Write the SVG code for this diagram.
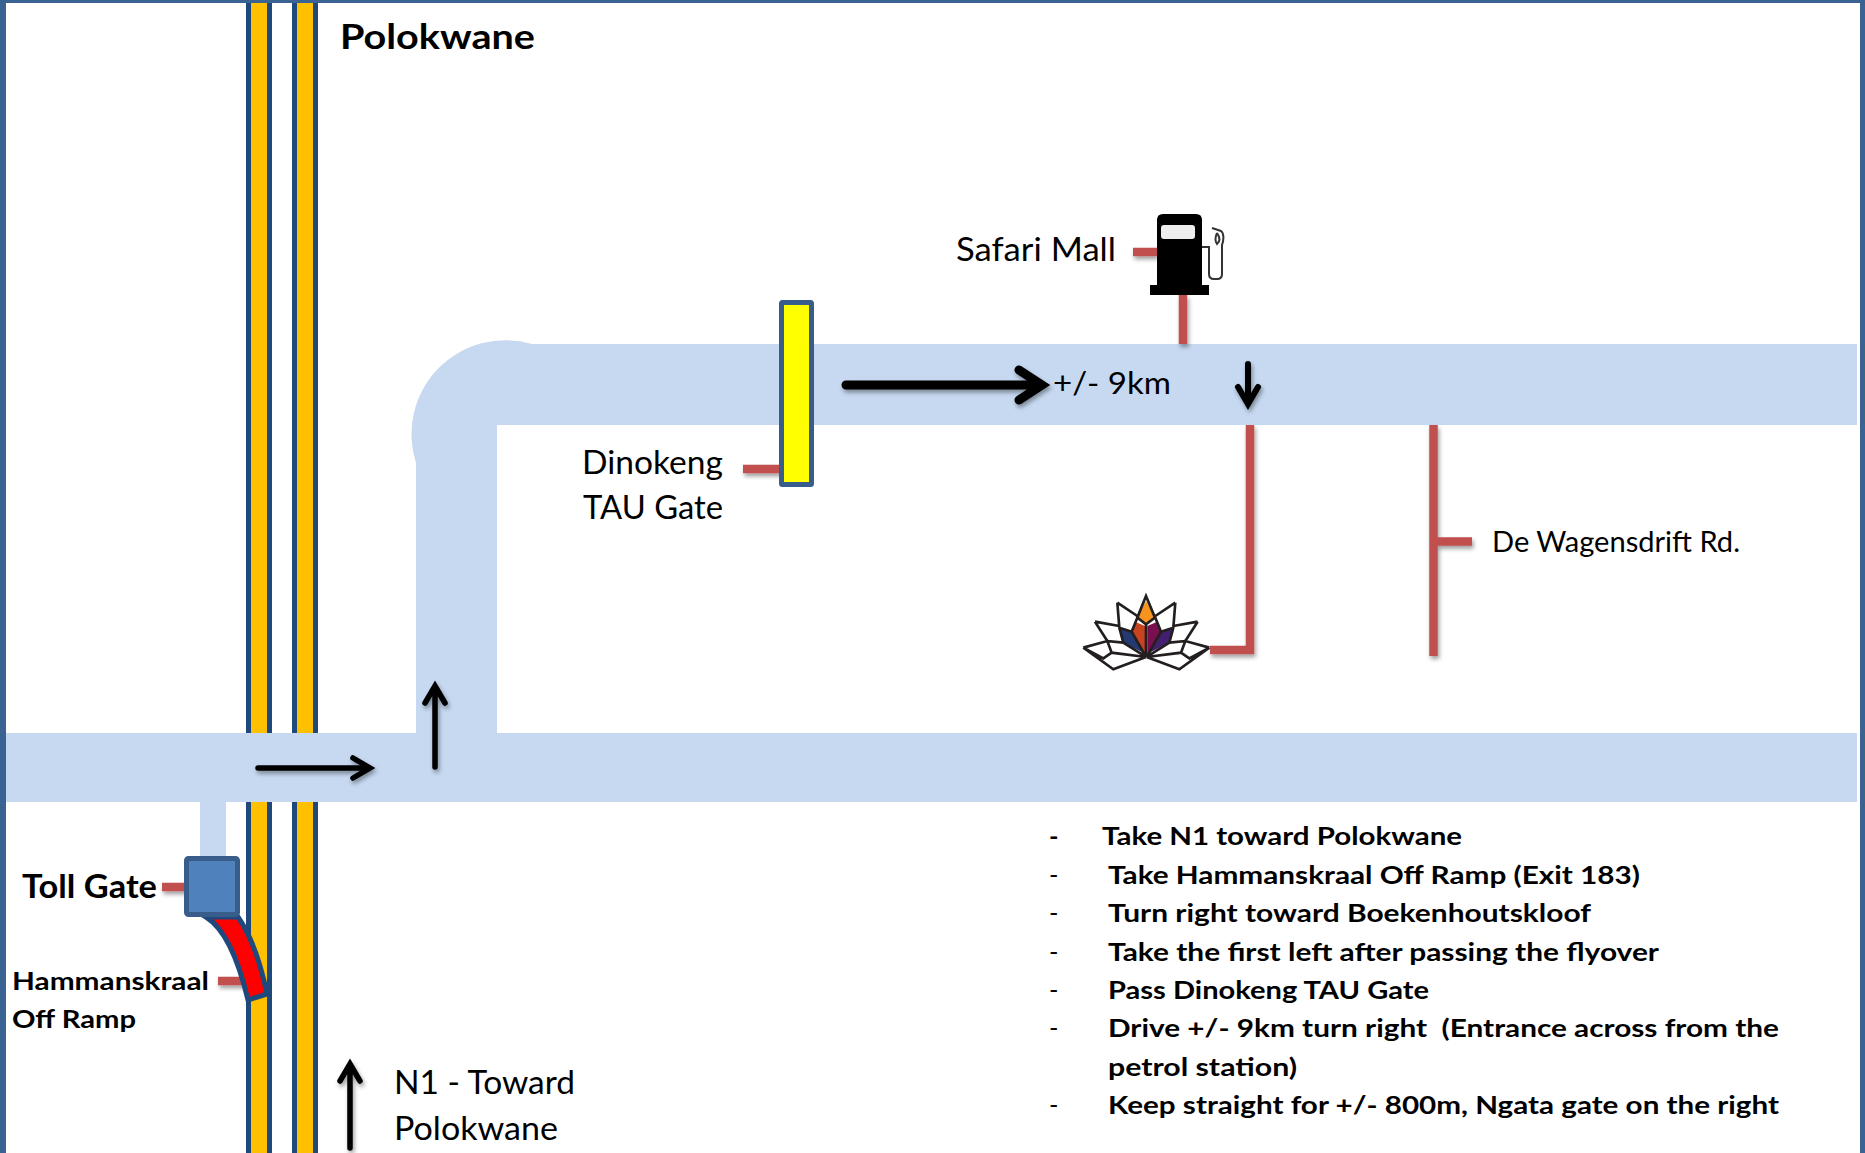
<svg xmlns="http://www.w3.org/2000/svg" width="1865" height="1153" viewBox="0 0 1865 1153">
<style>
text{font-family:"Lato","Open Sans","Liberation Sans",sans-serif;fill:#000}
.r{font-size:33px}
.b{font-weight:700}
.li{font-size:25.5px;font-weight:700}
.d{font-size:25.5px}
.road{fill:#C6D9F1}
.hw{fill:#FFC000;stroke:#1F497D;stroke-width:5}
.lead{stroke:#C0504D;stroke-width:8.5;fill:none}
.ar{stroke:#000;fill:none;stroke-linecap:round;stroke-linejoin:miter}
.gate{stroke:#385D8A;stroke-width:5}
.lo{fill:none;stroke:#231F20;stroke-width:8;stroke-linejoin:miter}
.sh{filter:url(#sh)}
</style>
<defs>
<filter id="sh" x="0" y="0" width="1865" height="1153" filterUnits="userSpaceOnUse"><feDropShadow dx="1.5" dy="3" stdDeviation="2" flood-color="#000" flood-opacity=".38"/></filter>
</defs>
<rect width="1865" height="1153" fill="#fff"/>
<g id="frame" fill="#3A6293"><rect x="0" y="0" width="6" height="1153"/><rect x="0" y="0" width="1865" height="3"/><rect x="1860" y="0" width="5" height="1153"/></g>
<g id="n1-highway"><rect class="hw" x="248.500" y="0" width="21" height="1160"/><rect class="hw" x="294.500" y="0" width="21" height="1160"/><rect x="0" y="0" width="1865" height="3" fill="#3A6293"/></g>
<g id="roads">
<path class="road" d="M416 802V463A94 94 0 0 1 532 344H1857V425H497V733H1857V802H6V733H416Z"/>
<rect class="road" x="200" y="802" width="26" height="60"/>
</g>
<g id="connectors" class="sh">
<path class="lead" d="M1183 295V344"/>
<path class="lead" d="M1133 252H1157"/>
<path class="lead" d="M743 469H781"/>
<path class="lead" d="M162 887H186"/>
<path class="lead" d="M218 981H246"/>
<path class="lead" d="M1250 425V650H1210"/>
<path class="lead" d="M1433.500 425V656"/>
<path class="lead" d="M1437 541.500H1472"/>
<path class="ar" stroke-width="9" d="M846 385H1040M1019 370L1042 385L1019 400"/>
<path class="ar" stroke-width="6" d="M1248 364V404M1238 387L1248 404L1258 387"/>
<path class="ar" stroke-width="5.500" d="M258 768H368M353 758L370 768L353 778"/>
<path class="ar" stroke-width="5.500" d="M435 767V688M425 703L435 686L445 703"/>
<path class="ar" stroke-width="5.500" d="M350 1148V1065M340 1081L350 1064L360 1081"/>
</g>
<g id="hammanskraal-ramp">
<path d="M206 917C224 928 238 958 248 1000L267 994C261 965 252 937 238 917Z" fill="#F00" stroke="#1F497D" stroke-width="5"/>
<text class="d b" x="12" y="990" textLength="197" lengthAdjust="spacingAndGlyphs">Hammanskraal</text>
<text class="d b" x="12" y="1028" textLength="124" lengthAdjust="spacingAndGlyphs">Off Ramp</text>
</g>
<g id="toll-gate">
<rect class="gate" x="186.500" y="858.500" width="51" height="56" rx="2" fill="#4F81BD"/>
<text class="b" font-size="33" x="22" y="898" textLength="135" lengthAdjust="spacingAndGlyphs">Toll Gate</text>
</g>
<g id="dinokeng-gate">
<rect class="gate" x="781.500" y="302.500" width="30" height="182" rx="1" fill="#FF0"/>
<text class="r" x="582" y="474" textLength="141" lengthAdjust="spacingAndGlyphs">Dinokeng</text>
<text class="r" x="583" y="519" textLength="140" lengthAdjust="spacingAndGlyphs">TAU Gate</text>
</g>
<g id="safari-mall">
<path d="M1157 285V220Q1157 214 1163 214H1196Q1202 214 1202 220V285H1209V295H1150V285Z" fill="#000"/>
<rect x="1161" y="225" width="34" height="14" rx="3" fill="#EEE"/>
<path d="M1202 247H1209V274Q1209 279 1214 279H1217Q1222 279 1222 274V245C1224 240 1224 233 1221 231L1212 228M1217 233Q1214 240 1217 244Q1222 240 1217 233" fill="none" stroke="#333" stroke-width="2"/>
<text class="r" x="956" y="261" textLength="160" lengthAdjust="spacingAndGlyphs">Safari Mall</text>
</g>
<g id="ngata-lotus" transform="translate(1060 571) scale(.3333)">
<path d="M258 90L285 140L258 160L232 140Z" fill="#F7941E"/>
<path d="M225 152L255 165V250L215 185Z" fill="#C8431F"/>
<path d="M292 152L262 165V250L302 185Z" fill="#7A0F4F"/>
<path d="M180 172L215 182L250 245L190 215Z" fill="#243A72"/>
<path d="M337 172L302 182L268 245L327 215Z" fill="#43206F"/>
<path class="lo" d="M258 75L285 140L258 160L232 140ZM258 160V258M232 140L215 182L258 258M172 95L232 135M172 95L178 170L190 215L258 258M178 170L215 182M105 152L178 165M105 152L142 210L190 215M70 230L142 210L155 245L258 258M70 230L160 295L258 258M70 230L130 262L155 245"/>
<path class="lo" transform="matrix(-1 0 0 1 518 0)" d="M232 140L215 182L258 258M172 95L232 135M172 95L178 170L190 215L258 258M178 170L215 182M105 152L178 165M105 152L142 210L190 215M70 230L142 210L155 245L258 258M70 230L160 295L258 258M70 230L130 262L155 245"/>
</g>
<g id="labels">
<text class="b" font-size="34" x="340" y="49" textLength="195" lengthAdjust="spacingAndGlyphs">Polokwane</text>
<text font-size="31" x="1053" y="394" textLength="118" lengthAdjust="spacingAndGlyphs">+/- 9km</text>
<text font-size="28" x="1492" y="552" textLength="248" lengthAdjust="spacingAndGlyphs">De Wagensdrift Rd.</text>
<text class="r" x="394" y="1094" textLength="181" lengthAdjust="spacingAndGlyphs">N1 - Toward</text>
<text class="r" x="394" y="1140" textLength="164" lengthAdjust="spacingAndGlyphs">Polokwane</text>
</g>
<g id="directions">
<text class="li" x="1049" y="845">-</text><text class="li" x="1102" y="845" textLength="360" lengthAdjust="spacingAndGlyphs">Take N1 toward Polokwane</text>
<text class="d" x="1049" y="884">-</text><text class="li" x="1108" y="884" textLength="532" lengthAdjust="spacingAndGlyphs">Take Hammanskraal Off Ramp (Exit 183)</text>
<text class="d" x="1049" y="922">-</text><text class="li" x="1108" y="922" textLength="483" lengthAdjust="spacingAndGlyphs">Turn right toward Boekenhoutskloof</text>
<text class="d" x="1049" y="961">-</text><text class="li" x="1108" y="961" textLength="551" lengthAdjust="spacingAndGlyphs">Take the first left after passing the flyover</text>
<text class="d" x="1049" y="999">-</text><text class="li" x="1108" y="999" textLength="321" lengthAdjust="spacingAndGlyphs">Pass Dinokeng TAU Gate</text>
<text class="d" x="1049" y="1037">-</text><text class="li" x="1108" y="1037" textLength="671" lengthAdjust="spacingAndGlyphs" xml:space="preserve">Drive +/- 9km turn right  (Entrance across from the</text>
<text class="li" x="1108" y="1076" textLength="189" lengthAdjust="spacingAndGlyphs">petrol station)</text>
<text class="d" x="1049" y="1114">-</text><text class="li" x="1108" y="1114" textLength="671" lengthAdjust="spacingAndGlyphs">Keep straight for +/- 800m, Ngata gate on the right</text>
</g>
</svg>
